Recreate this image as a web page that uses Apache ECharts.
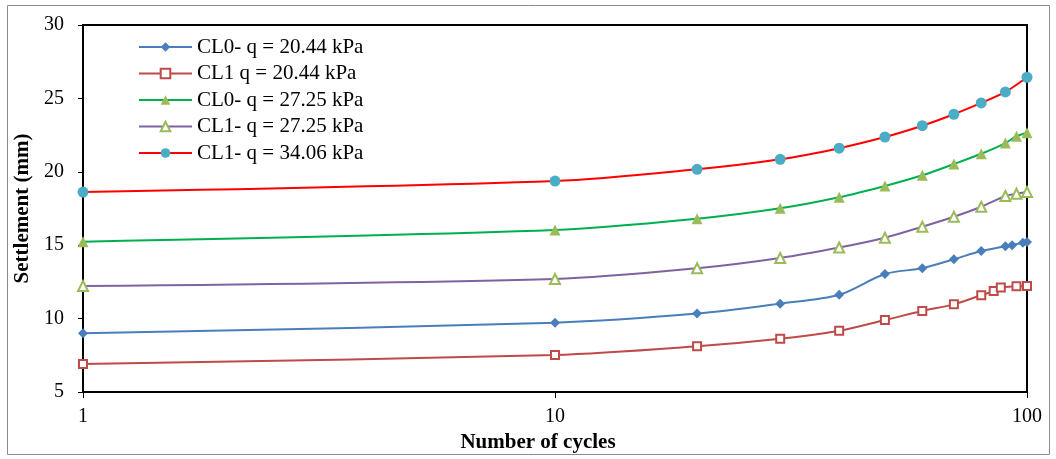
<!DOCTYPE html>
<html><head><meta charset="utf-8">
<script src="https://cdn.jsdelivr.net/npm/echarts@6/dist/echarts.min.js"></script>
<style>html,body{margin:0;padding:0;background:#fff}#c{width:1056px;height:459px}</style>
</head><body><div id="c"></div>
<script>
const seriesNames = ['CL0- q = 20.44 kPa','CL1 q = 20.44 kPa','CL0- q = 27.25 kPa','CL1- q = 27.25 kPa','CL1- q = 34.06 kPa'];
const x1 = [1,10,20,30,40,50,60,70,80,90,93,98,100];
const y1 = [9.0,9.72,10.34,11.02,11.62,13.04,13.43,14.04,14.6,14.93,15.0,15.17,15.22];
const x2 = [1,10,20,30,40,50,60,70,80,85,88,95,100];
const y2 = [6.91,7.52,8.11,8.62,9.17,9.9,10.52,10.97,11.59,11.88,12.12,12.2,12.22];
const x3 = [1,10,20,30,40,50,60,70,80,90,95,100];
const y3 = [15.24,16.03,16.8,17.51,18.26,19.03,19.76,20.53,21.23,21.96,22.42,22.66];
const x4 = [1,10,20,30,40,50,60,70,80,90,95,100];
const y4 = [12.22,12.7,13.43,14.13,14.84,15.51,16.26,16.94,17.62,18.35,18.5,18.62];
const x5 = [1,10,20,30,40,50,60,70,80,90,100];
const y5 = [18.62,19.37,20.17,20.85,21.61,22.37,23.14,23.92,24.69,25.44,26.44];
const yTicks = [5,10,15,20,25,30];

const pair = (xs, ys) => xs.map((x,i)=>[x, ys[i]]);
const font = '"Liberation Serif", "Times New Roman", serif';
const styles = [
  {line:'#4A7EBB', symbol:'diamond', size:10, fill:'#4A7EBB', border:'#4A7EBB', bw:0},
  {line:'#BE4B48', symbol:'rect', size:8, fill:'#fff', border:'#BE4B48', bw:2},
  {line:'#00B050', symbol:'triangle', size:11, fill:'#9BBB59', border:'#9BBB59', bw:0},
  {line:'#7F63A1', symbol:'triangle', size:10, fill:'#fff', border:'#9BBB59', bw:2},
  {line:'#FF0000', symbol:'circle', size:11, fill:'#4BACC6', border:'#4BACC6', bw:0}
];
const datas = [pair(x1,y1), pair(x2,y2), pair(x3,y3), pair(x4,y4), pair(x5,y5)];

const chart = echarts.init(document.getElementById('c'));
chart.setOption({
  animation:false,
  backgroundColor:'#fff',
  graphic:[{type:'rect', shape:{x:7.5,y:5.5,width:1042,height:449}, style:{fill:'none', stroke:'#8c8c8c', lineWidth:1}, silent:true}],
  grid:{left:83, right:29, top:25, bottom:67, show:true, borderColor:'#000', borderWidth:2, backgroundColor:'#fff'},
  legend:{
    orient:'vertical', left:133, top:31.5, itemWidth:53, itemHeight:12, itemGap:5.5,
    textStyle:{fontFamily:font, fontSize:21, color:'#000'},
    data: seriesNames
  },
  xAxis:{
    type:'log', logBase:10, min:1, max:100,
    name:'Number of cycles', nameLocation:'middle', nameGap:30,
    nameTextStyle:{fontFamily:font, fontSize:21, fontWeight:'bold', color:'#000', padding:[0,34,0,0]},
    axisLine:{show:true, lineStyle:{color:'#000', width:2}},
    axisTick:{show:true, inside:false, length:6, lineStyle:{color:'#000', width:1}},
    minorTick:{show:false},
    splitLine:{show:false},
    axisLabel:{fontFamily:font, fontSize:20, color:'#000', margin:15}
  },
  yAxis:{
    type:'value', min:yTicks[0], max:yTicks[yTicks.length-1], interval:5,
    name:'Settlement (mm)', nameLocation:'middle', nameGap:46.5,
    nameTextStyle:{fontFamily:font, fontSize:21, fontWeight:'bold', color:'#000'},
    axisLine:{show:true, lineStyle:{color:'#000', width:2}},
    axisTick:{show:true, inside:false, length:5, lineStyle:{color:'#000', width:1}},
    splitLine:{show:false},
    axisLabel:{fontFamily:font, fontSize:20, color:'#000', margin:19}
  },
  series: datas.map((d,i)=>({
    name: seriesNames[i], type:'line', data:d, smooth:0.3,
    symbol: styles[i].symbol, symbolSize: styles[i].size, showSymbol:true,
    lineStyle:{color:styles[i].line, width:2},
    itemStyle:{color:styles[i].fill, borderColor:styles[i].border, borderWidth:styles[i].bw},
    clip:false
  }))
});
</script></body></html>
